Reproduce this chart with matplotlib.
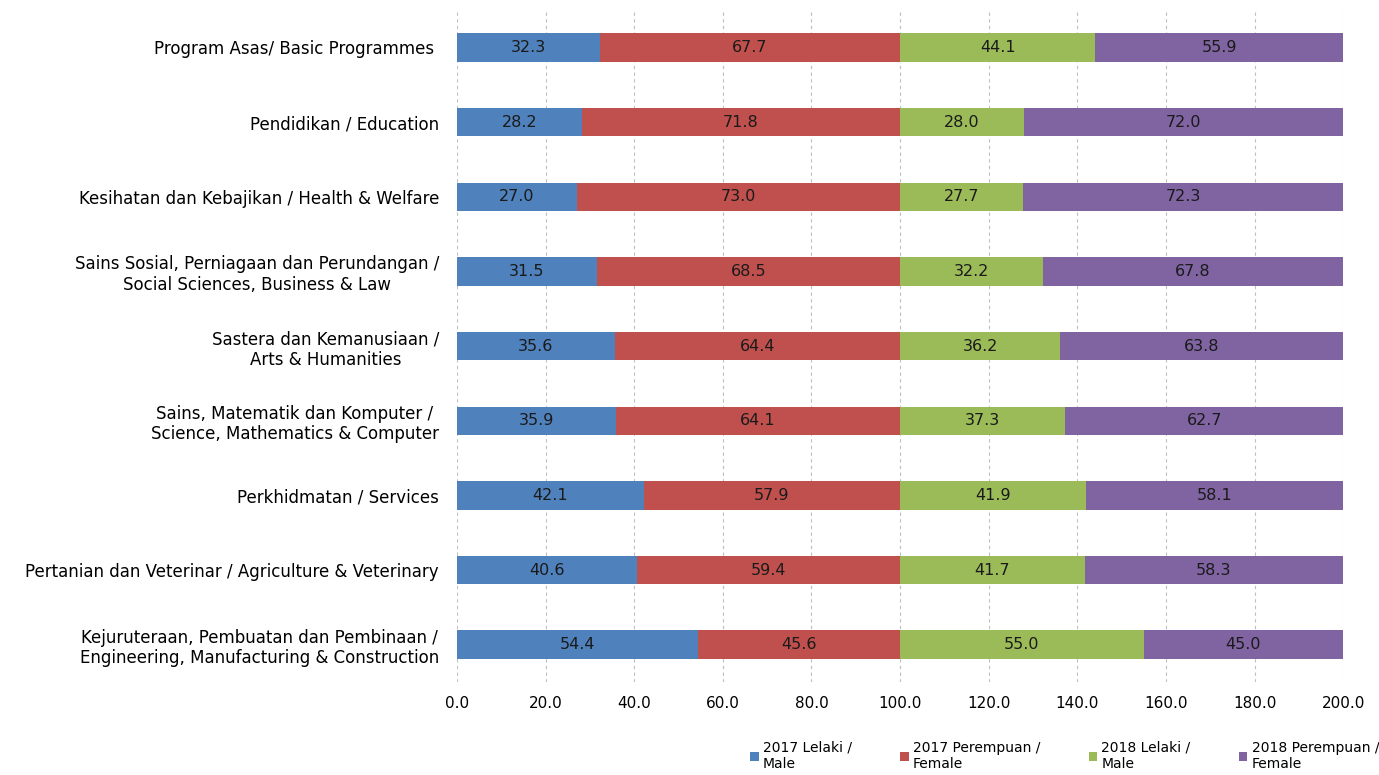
import numpy as np
import matplotlib.pyplot as plt

categories = [
    'Program Asas/ Basic Programmes ',
    'Pendidikan / Education',
    'Kesihatan dan Kebajikan / Health & Welfare',
    'Sains Sosial, Perniagaan dan Perundangan /\nSocial Sciences, Business & Law',
    'Sastera dan Kemanusiaan /\nArts & Humanities',
    'Sains, Matematik dan Komputer /\nScience, Mathematics & Computer',
    'Perkhidmatan / Services',
    'Pertanian dan Veterinar / Agriculture & Veterinary',
    'Kejuruteraan, Pembuatan dan Pembinaan /\nEngineering, Manufacturing & Construction',
]
male_2017 = [32.3, 28.2, 27.0, 31.5, 35.6, 35.9, 42.1, 40.6, 54.4]
female_2017 = [67.7, 71.8, 73.0, 68.5, 64.4, 64.1, 57.9, 59.4, 45.6]
male_2018 = [44.1, 28.0, 27.7, 32.2, 36.2, 37.3, 41.9, 41.7, 55.0]
female_2018 = [55.9, 72.0, 72.3, 67.8, 63.8, 62.7, 58.1, 58.3, 45.0]

series_names = ['2017 Lelaki /\nMale', '2017 Perempuan /\nFemale',
                '2018 Lelaki /\nMale', '2018 Perempuan /\nFemale']
colors = ['#4F81BD', '#C0504D', '#9BBB59', '#8064A2']

plt.rcParams['font.family'] = ['DejaVu Sans']

fig = plt.figure(figsize=(13.79, 7.75), dpi=100)
ax = fig.add_axes([0.3314, 0.12, 0.6426, 0.867])

y = np.arange(len(categories))
left = np.zeros(len(categories))
for vals, name, c in zip([male_2017, female_2017, male_2018, female_2018], series_names, colors):
    vals = np.array(vals)
    bars = ax.barh(y, vals, left=left, height=0.38, color=c, label=name, zorder=3)
    ax.bar_label(bars, labels=[f'{v:.1f}' for v in vals], label_type='center',
                 fontsize=11.5, color='#1a1a1a')
    left += vals

ax.set_ylim(len(categories) - 0.5, -0.5)
ax.set_xlim(0, 200)
ax.set_xticks(np.arange(0, 201, 20))
ax.set_xticklabels([f'{t:.1f}' for t in np.arange(0, 201, 20)], fontsize=11)
ax.set_yticks(y)
ax.set_yticklabels(categories, fontsize=12, multialignment='center')
ax.tick_params(length=0, pad=10)
ax.tick_params(axis='y', pad=13)
ax.grid(axis='x', linestyle=(0, (3, 3)), color='#bfbfbf', linewidth=0.8, zorder=0)
for s in ax.spines.values():
    s.set_visible(False)

fig.legend(loc='lower left', bbox_to_anchor=(0.535, -0.011), ncol=4, frameon=False,
           fontsize=10, handlelength=0.6, handleheight=0.6, handletextpad=0.3,
           columnspacing=3.5)

fig.savefig('out.png', dpi=100)
